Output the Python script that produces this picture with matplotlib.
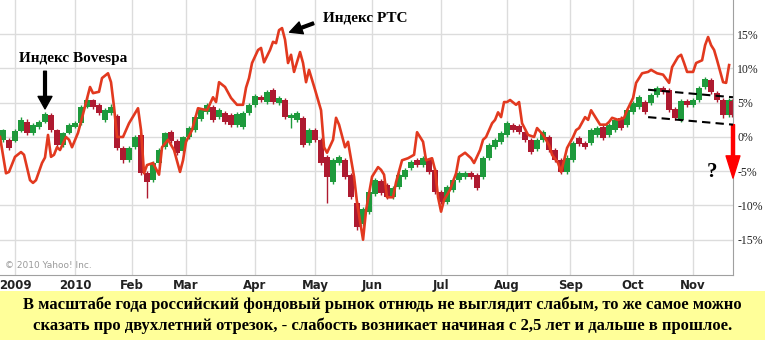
import matplotlib
matplotlib.use("Agg")
import matplotlib.pyplot as plt
from matplotlib.patches import Rectangle

# x axis = trading session number over the last year
month_day = [5, 25, 44, 62, 85, 105, 124, 147, 169, 190, 211, 231]
month_lbl = ['2009', '2010', 'Feb', 'Mar', 'Apr', 'May', 'Jun', 'Jul', 'Aug', 'Sep', 'Oct', 'Nov']

# RTS index, % change (red line)
rts_day = [0, 2, 3, 5, 7, 8, 10, 11, 12, 14, 15, 16, 17, 18, 19, 20, 22, 23, 24, 26,
           28, 30, 31, 32, 33, 34, 36, 37, 38, 39, 41, 43, 46, 47, 48, 49, 51, 53, 54, 56,
           58, 60, 61, 62, 64, 66, 69, 71, 72, 73, 75, 77, 79, 81, 82, 83, 84, 86, 87, 88,
           90, 91, 92, 93, 94, 95, 96, 97, 98, 100, 101, 102, 103, 105, 107, 108, 109, 111, 112, 113,
           115, 116, 118, 119, 121, 122, 124, 126, 127, 128, 129, 131, 132, 134, 136, 138, 139, 141, 142, 144,
           145, 146, 147, 148, 150, 152, 153, 155, 157, 158, 160, 161, 162, 164, 165, 166, 167, 168, 169, 170,
           172, 173, 174, 176, 178, 179, 181, 183, 184, 186, 187, 188, 189, 191, 192, 193, 195, 196, 197, 198,
           200, 202, 203, 204, 206, 208, 209, 211, 212, 214, 216, 217, 219, 221, 223, 224, 226, 227, 228, 229,
           231, 232, 234, 235, 236, 237, 238, 239, 241, 242, 243]
rts_pct = [0.0, -5.3, -5.1, -2.9, -2.2, -2.6, -6.3, -6.7, -6.3, -3.8, -3.0, 0.3, -2.9, -2.6, -1.5, -1.9, 0.0, -0.4, -1.5, 0.6,
           3.9, 7.3, 6.4, 6.5, 6.6, 8.6, 9.3, 8.0, 4.4, 0.0, 0.0, 2.0, 4.2, 1.0, -5.3, -4.1, -3.8, -5.5, -1.5, -0.4,
           -1.9, -5.1, -3.4, -0.7, 1.0, 4.2, 3.9, 5.8, 5.1, 8.0, 7.3, 5.7, 4.7, 4.7, 7.2, 8.6, 10.8, 12.7, 13.0, 10.9,
           12.7, 13.9, 13.7, 15.6, 15.9, 14.2, 10.8, 12.0, 9.5, 12.4, 10.8, 8.0, 9.8, 6.9, 3.9, -1.5, -2.3, -0.4, 2.8, 1.8,
           -1.5, -0.7, -5.8, -9.6, -15.0, -10.7, -5.8, -4.4, -4.8, -5.5, -8.8, -8.8, -6.6, -3.4, -3.1, -2.6, 0.7, -0.7, -3.4, -3.1,
           -4.8, -8.8, -10.9, -9.2, -7.7, -5.3, -2.9, -2.3, -3.1, -3.8, -1.9, -0.4, 0.0, 2.0, 2.5, 3.6, 2.9, 5.1, 5.1, 5.4,
           4.7, 5.1, 2.0, 0.3, 0.0, 1.3, 0.3, -1.2, -2.6, -3.8, -5.1, -3.4, -1.6, 0.0, 1.0, 1.3, 2.9, 2.5, 3.9, 3.2,
           1.8, 1.8, 2.2, 2.8, 2.5, 2.8, 3.9, 5.7, 7.9, 9.3, 9.5, 9.8, 9.3, 9.1, 7.9, 10.2, 11.7, 12.0, 10.8, 9.5,
           9.5, 10.8, 11.2, 13.4, 14.6, 13.4, 12.7, 11.2, 8.0, 7.9, 10.5]

# Bovespa candles, % change (one candle per two sessions)
bov_day = list(range(1, 244, 2)) + [244]
bov_open = [-0.4, -0.4, -0.6, 0.9, 2.2, 0.6, 1.5, 2.2, 3.2, 1.0, -1.2, 0.6, 1.5, 2.0, 4.4, 5.4, 4.7, 2.5, 3.5, 3.0,
            -1.6, -3.4, -1.5, 0.3, -5.3, -6.3, -3.8, -1.5, 0.7, -0.6, -2.0, 0.0, 1.0, 2.6, 3.6, 4.4, 2.9, 3.5, 3.2, 1.8,
            1.5, 3.5, 4.7, 5.8, 5.1, 6.9, 5.0, 5.4, 2.8, 2.5, 2.8, -0.9, 1.0, -0.4, -2.9, -6.6, -3.8, -3.4, -5.5, -9.6,
            -12.7, -11.0, -8.3, -6.4, -7.0, -8.8, -7.3, -5.8, -4.5, -3.4, -4.1, -3.4, -4.8, -8.0, -9.5, -7.7, -6.3, -5.8, -5.3, -5.5,
            -5.8, -3.1, -1.5, -0.7, 0.3, 1.8, 1.6, 0.7, -0.4, -1.8, -0.4, 0.0, -1.9, -3.4, -5.1, -3.4, -0.1, -0.9, -0.9, 0.3,
            1.5, 0.3, 1.0, 2.8, 1.8, 3.6, 4.4, 5.1, 5.0, 6.1, 7.2, 6.9, 4.1, 2.5, 5.2, 4.7, 5.4, 7.3, 8.3, 6.4,
            5.4, 3.2, 5.2]
bov_close = [1.0, -1.6, 0.9, 2.5, 0.6, 1.8, 2.2, 3.4, 1.0, -1.2, 0.6, 1.8, 2.0, 4.4, 5.4, 4.4, 3.5, 3.9, 4.4, -1.6,
             -3.4, -1.6, 0.0, -5.3, -6.6, -3.8, -1.9, 0.6, -0.6, -2.3, 0.0, 1.3, 2.9, 3.9, 4.7, 2.5, 3.9, 2.2, 1.8, 3.4,
             3.5, 4.7, 6.0, 5.4, 6.6, 5.1, 5.7, 2.9, 3.2, 3.5, -1.2, 1.0, -0.4, -3.8, -5.8, -3.4, -2.9, -5.8, -8.8, -13.1,
             -10.5, -8.0, -6.3, -8.2, -8.8, -7.4, -5.5, -4.8, -3.6, -4.1, -3.1, -5.1, -8.0, -9.5, -7.3, -6.3, -5.3, -5.3, -5.8, -7.4,
             -3.1, -1.2, -0.4, 0.6, 2.0, 1.0, 0.7, -0.4, -2.2, -0.4, 0.7, -1.9, -3.4, -5.1, -3.0, -0.9, -1.0, -1.5, 1.0, 1.3,
             -0.1, 1.8, 2.5, 1.3, 3.9, 5.0, 5.8, 3.6, 6.1, 7.2, 6.6, 3.9, 2.8, 5.2, 4.7, 5.4, 7.2, 8.5, 6.6, 5.4,
             3.2, 5.4, 3.2]
bov_high = [1.2, -0.2, 1.1, 2.9, 2.6, 2.0, 2.5, 3.6, 3.5, 1.2, 0.8, 2.0, 2.3, 4.6, 5.8, 5.6, 4.9, 4.2, 4.8, 3.3,
            -1.3, -1.3, 0.3, 0.6, -5.0, -3.5, -1.6, 0.8, 1.0, -0.3, 0.2, 1.6, 3.2, 4.2, 5.0, 4.7, 4.2, 3.8, 3.5, 3.7,
            3.8, 5.0, 6.3, 6.2, 6.9, 7.2, 6.0, 5.7, 3.5, 3.8, 3.1, 1.3, 1.3, -0.1, -2.6, -3.1, -2.6, -3.1, -5.2, -9.3,
            -10.2, -7.7, -6.0, -6.1, -6.7, -7.1, -5.2, -4.5, -3.3, -3.1, -2.8, -3.1, -4.5, -7.7, -7.0, -6.0, -5.0, -5.0, -5.0, -5.2,
            -2.8, -0.9, -0.1, 0.9, 2.3, 2.1, 1.9, 1.0, -0.1, -0.1, 1.0, 0.3, -1.6, -3.1, -2.7, -0.6, 0.2, -0.6, 1.3, 1.6,
            1.8, 2.1, 2.8, 3.1, 4.2, 5.3, 6.1, 5.4, 6.4, 7.5, 7.5, 7.2, 4.4, 5.5, 5.5, 5.7, 7.5, 8.8, 8.6, 6.7,
            5.7, 5.7, 5.5]
bov_low = [-0.7, -1.9, -0.8, 0.7, 0.3, 0.3, 1.2, 2.0, 0.8, -1.6, -1.4, 0.4, 1.3, 1.8, 4.2, 4.1, 3.2, 2.2, 3.2, -1.9,
           -3.8, -3.7, -1.8, -5.6, -8.9, -6.6, -4.1, -1.8, -0.9, -2.6, -2.3, -0.3, 0.7, 2.3, 3.3, 2.2, 2.6, 1.9, 1.5, 1.5,
           1.2, 3.2, 4.4, 5.1, 4.8, 4.8, 4.7, 2.6, 1.3, 2.2, -1.5, -1.2, -0.7, -4.1, -9.6, -6.9, -4.1, -6.1, -9.1, -13.6,
           -13.0, -11.3, -8.6, -8.5, -9.1, -9.1, -7.6, -6.1, -4.8, -4.4, -4.4, -5.4, -8.3, -9.8, -9.8, -8.0, -6.6, -6.1, -6.1, -7.7,
           -6.1, -3.4, -1.8, -1.0, 0.0, 0.7, 0.4, -0.7, -2.5, -2.1, -0.7, -2.2, -3.7, -5.4, -5.4, -3.7, -1.3, -1.8, -1.2, 0.0,
           -0.4, 0.0, 0.7, 1.0, 1.5, 3.3, 4.1, 3.3, 4.7, 5.8, 6.3, 3.6, 2.5, 2.2, 4.4, 4.4, 5.1, 7.0, 6.3, 5.1,
           2.8, 2.9, 2.9]

pct_ticks = [-15, -10, -5, 0, 5, 10, 15]

note = ("В масштабе года российский фондовый рынок отнюдь не выглядит слабым, то же самое можно\n"
        "сказать про двухлетний отрезок, - слабость возникает начиная с 2,5 лет и дальше в прошлое.")

up_col = '#1E9A3C'
dn_col = '#AE1A30'
line_col = '#E2391F'
serif = ['Liberation Serif', 'DejaVu Serif']

fig = plt.figure(figsize=(7.65, 3.4), dpi=100)
fig.add_artist(Rectangle((0, 0), 1, 49 / 340, transform=fig.transFigure,
                         facecolor='#FFFF99', edgecolor='none', zorder=0))
ax = fig.add_axes([0, 65 / 340, 733 / 765, 275 / 340])
ax.set_facecolor('white')

ax.set_xlim(0, 244.3)
ax.set_ylim(-20.15, 20.0)

for s in ['top', 'left']:
    ax.spines[s].set_visible(False)
for s in ['right', 'bottom']:
    ax.spines[s].set_color('#A0A0A0')

ax.set_xticks(month_day)
ax.set_xticklabels(month_lbl, fontfamily=['Liberation Sans Narrow', 'DejaVu Sans'],
                   fontweight='bold', fontsize=8.5, color='#222222')
ax.yaxis.tick_right()
ax.set_yticks(pct_ticks)
ax.set_yticklabels([f'{v}%' for v in pct_ticks], fontfamily=serif, fontsize=8.5, color='#222222')
ax.tick_params(length=0, pad=3)
ax.grid(True, color='#DCDCDC', lw=1)
ax.set_axisbelow(True)

# candlesticks
cols = [up_col if c >= o else dn_col for o, c in zip(bov_open, bov_close)]
ax.vlines(bov_day, bov_low, bov_high, colors=cols, lw=1, zorder=2)
ax.bar(bov_day, [max(abs(c - o), 0.3) for o, c in zip(bov_open, bov_close)],
       bottom=[min(o, c) for o, c in zip(bov_open, bov_close)],
       width=1.75, color=cols, zorder=2)

ax.plot(rts_day, rts_pct, color=line_col, lw=1.9, zorder=3, solid_joinstyle='round')

# annotations
ax.text(24.5, 11.4, 'Индекс Bovespa', fontfamily=serif, fontweight='bold',
        fontsize=11, ha='center', va='center')
ax.annotate('', xy=(15, 4.1), xytext=(15, 9.6),
            arrowprops=dict(facecolor='black', edgecolor='black', width=2, headwidth=10,
                            headlength=9, shrink=0))
ax.text(107.7, 17.4, 'Индекс РТС', fontfamily=serif, fontweight='bold',
        fontsize=11, ha='left', va='center')
ax.annotate('', xy=(96.5, 15.3), xytext=(104.5, 16.6),
            arrowprops=dict(facecolor='black', edgecolor='black', width=2, headwidth=9,
                            headlength=9, shrink=0))

chan_x = [216, 244.3]
chan_top = [6.9, 5.8]
chan_bot = [2.9, 1.8]
ax.plot(chan_x, chan_top, color='black', lw=1.5, dashes=(4, 2.5), zorder=4, clip_on=False)
ax.plot(chan_x, chan_bot, color='black', lw=1.5, dashes=(4, 2.5), zorder=4, clip_on=False)

ax.annotate('', xy=(244.3, -6.0), xytext=(244.3, 1.8), annotation_clip=False,
            arrowprops=dict(facecolor='#FF0000', edgecolor='#FF0000', width=2.2,
                            headwidth=10, headlength=16, shrink=0))
ax.text(237.3, -5.1, '?', fontfamily=serif, fontweight='bold', fontsize=15,
        ha='center', va='center')

ax.text(1.7, -18.8, '© 2010 Yahoo! Inc.', fontsize=6.5, color='#9A9A9A',
        ha='left', va='center')

fig.text(0.5, 25 / 340, note, ha='center', va='center', fontfamily=serif,
         fontweight='bold', fontsize=12.0, linespacing=1.35)

fig.savefig('out.png', dpi=100)
